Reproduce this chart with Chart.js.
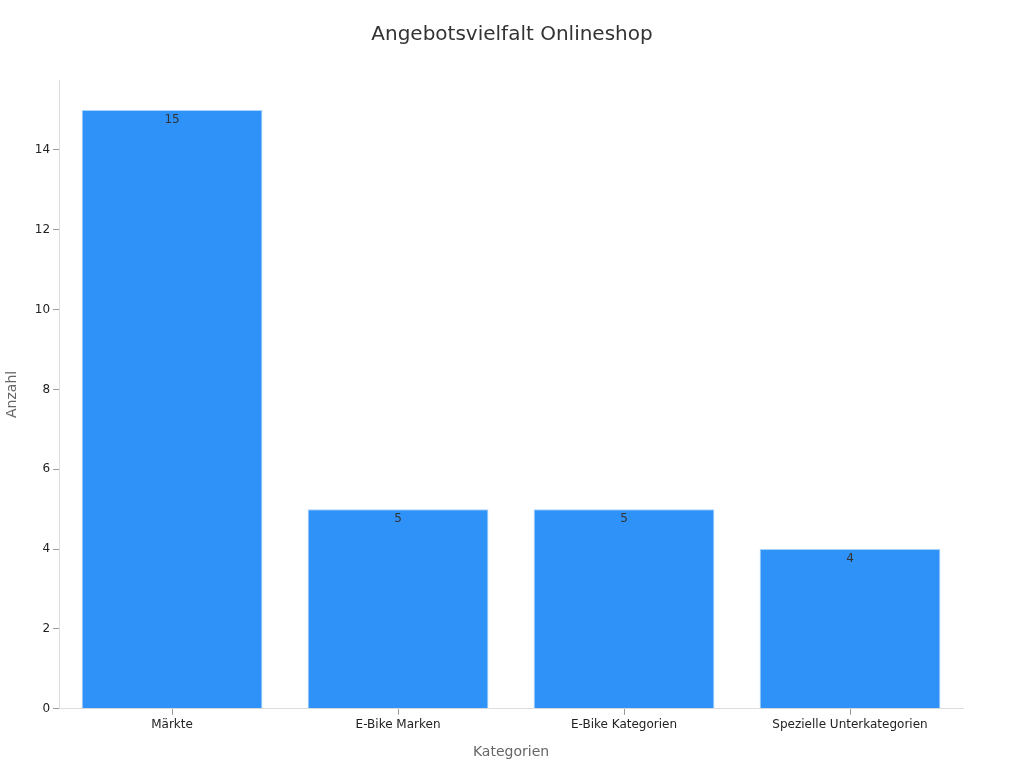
<!DOCTYPE html>
<html lang="de">
<head>
    <meta charset="UTF-8">
    <script src="https://cdn.jsdelivr.net/npm/chart.js"></script>
    <title>Angebotsvielfalt Onlineshop</title>
    <style>
        html, body { margin: 0; padding: 0; background: #fff; }
        #wrap { width: 1024px; height: 768px; }
    </style>
</head>
<body>
    <div id="wrap"><canvas id="chart"></canvas></div>
    <script>
        const categories = ['Märkte', 'E-Bike Marken', 'E-Bike Kategorien', 'Spezielle Unterkategorien'];
        const counts = [15, 5, 5, 4];
        const yTicks = [0, 2, 4, 6, 8, 10, 12, 14];

        // draws the value just inside the top of each bar
        const valueLabels = {
            id: 'valueLabels',
            afterDatasetsDraw(chart) {
                const ctx = chart.ctx;
                const meta = chart.getDatasetMeta(0);
                ctx.save();
                ctx.font = '12px "DejaVu Sans"';
                ctx.fillStyle = '#333';
                ctx.textAlign = 'center';
                ctx.textBaseline = 'middle';
                meta.data.forEach((bar, i) => {
                    ctx.fillText(String(counts[i]), bar.x, bar.y + 10);
                });
                ctx.restore();
            }
        };

        Chart.defaults.font.family = '"DejaVu Sans", sans-serif';

        new Chart(document.getElementById('chart'), {
            type: 'bar',
            data: {
                labels: categories,
                datasets: [{
                    label: 'Anzahl',
                    data: counts,
                    backgroundColor: '#2f92f8',
                    borderColor: '#a9d3fb',
                    borderWidth: 1,
                    barPercentage: 1,
                    categoryPercentage: 0.8
                }]
            },
            options: {
                responsive: true,
                maintainAspectRatio: false,
                animation: false,
                layout: { padding: { left: 0, right: 0, top: 13, bottom: 3 } },
                plugins: {
                    legend: { display: false },
                    tooltip: { enabled: false },
                    title: {
                        display: true,
                        text: 'Angebotsvielfalt Onlineshop',
                        color: '#333',
                        font: { size: 20, weight: 'normal' },
                        padding: { top: 10, bottom: 33 }
                    }
                },
                scales: {
                    x: {
                        grid: { display: true, drawOnChartArea: false, offset: false, tickLength: 6, color: '#999' },
                        border: { color: '#ddd' },
                        ticks: { color: '#222', font: { size: 12 }, padding: 3 },
                        title: { display: true, text: 'Kategorien', color: '#666', font: { size: 14 }, padding: { top: 9 } }
                    },
                    y: {
                        beginAtZero: true,
                        max: 15.75,
                        afterBuildTicks: (axis) => {
                            axis.ticks = yTicks.map(v => ({ value: v }));
                        },
                        grid: { display: true, drawOnChartArea: false, tickLength: 6, color: '#999' },
                        border: { color: '#ddd' },
                        ticks: { color: '#222', font: { size: 12 }, padding: 3 },
                        title: { display: true, text: 'Anzahl', color: '#666', font: { size: 14 }, padding: { bottom: 11 } }
                    },
                    // empty right axis, only keeps space free on the right
                    yRight: {
                        position: 'right',
                        display: true,
                        grid: { display: false },
                        border: { display: false },
                        ticks: { display: false },
                        afterFit: (axis) => { axis.width = 61; }
                    }
                }
            },
            plugins: [valueLabels]
        });
    </script>
</body>
</html>
